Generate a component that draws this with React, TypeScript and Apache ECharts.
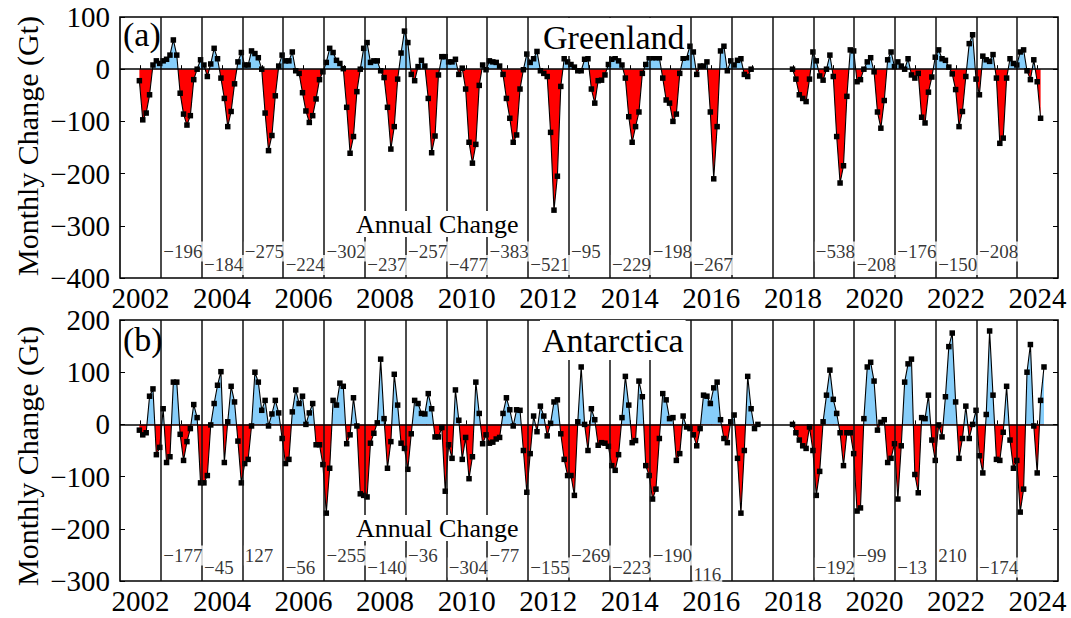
import { useEffect, useRef } from "react";
import * as echarts from "echarts";

const FONT = "'Liberation Serif', 'Times New Roman', serif";

// x positions of monthly samples (axis units = years)
const graceStart = 2001.975;
const graceFoStart = 2017.99;
const monthStep = 1 / 12;

const yearTicks = [2002, 2003, 2004, 2005, 2006, 2007, 2008, 2009, 2010, 2011, 2012, 2013, 2014, 2015, 2016, 2017, 2018, 2019, 2020, 2021, 2022, 2023, 2024];
const yearLabels = [2002, 2004, 2006, 2008, 2010, 2012, 2014, 2016, 2018, 2020, 2022, 2024];
const annualBoundaries = [2002.5, 2003.5, 2004.5, 2005.5, 2006.5, 2007.5, 2008.5, 2009.5, 2010.5, 2011.5, 2012.5, 2013.5, 2014.5, 2015.5, 2016.5, 2017.5, 2018.5, 2019.5, 2020.5, 2021.5, 2022.5, 2023.5];

// Greenland monthly change (Gt), GRACE then GRACE-FO
const greenlandGrace = [
  -22, -97, -84, -49, 8, 16, 11, 16, 19, 27, 56, 27,
  -46, -86, -107, -89, -20, 0, 18, 8, -14, 10, 40, 20,
  -17, -56, -110, -81, -28, 14, 32, 8, 8, 35, 30, 22,
  0, -84, -156, -127, -51, 6, 27, 16, 16, 33, -3, -8,
  -45, -80, -102, -89, -57, -20, -5, 13, 40, 32, 17, 11,
  1, -73, -161, -129, -43, 0, 40, 51, 13, 16, 16, -3,
  -16, -73, -153, -110, -19, 31, 73, 51, -10, -22, 5, 17,
  6, -56, -160, -128, -11, 24, 24, 14, 14, 19, -10, 2,
  -38, -140, -180, -144, -31, 8, -1, 16, 14, 13, 6, -10,
  -56, -94, -140, -126, -38, -1, 29, 13, 20, 34, -3, -8,
  -14, -121, -270, -205, -33, 20, 14, 9, 4, -3, -3, 19,
  20, -38, -65, -22, -21, -11, 9, 19, 22, 16, 8, -17,
  -91, -140, -110, -82, -8, 9, 22, 22, 22, 22, -17, -59,
  -65, -100, -86, -8, 21, 22, 44, 33, -10, 6, 6, 14,
  -82, -210, -110, 35, 44, -3, 16, 8, 17, 20, -10, -14,
  0,
];
const greenlandGraceFO = [
  0, -19, -49, -56, -62, -19, 33, 16, -13, -21, 0, 27,
  -14, -129, -218, -185, -52, 37, 35, -24, -20, 0, 14, 22,
  -5, -82, -113, -60, 18, 33, 5, 14, 6, 0, 20, -11,
  -17, -8, -92, -103, -44, -15, 23, 37, 20, 17, 4, -9,
  -39, -110, -81, -14, 49, 66, -19, -49, 25, 18, 15, 28,
  -17, -142, -132, -17, 20, 11, 8, 33, 37, -3, -20, 18,
  -24, -94,
];

// Antarctica monthly change (Gt)
const antarcticaGrace = [
  -11, -20, -16, 54, 68, -58, -44, 30, -73, -62, 81, 81,
  -19, -69, -33, -8, 38, 13, -112, -112, -98, -1, 40, 75,
  101, -73, 5, 73, 43, -32, -112, -75, -67, -3, 100, 81,
  27, 46, -3, 20, 46, 22, -27, -75, -67, 24, 66, 40,
  54, 0, 22, 40, -39, -39, -77, -170, -84, 46, 37, 79,
  73, -37, -20, 51, -3, -133, -136, -139, -36, -17, 3, 125,
  11, -84, -33, 96, 37, -36, -46, -86, -18, 46, 40, 21,
  20, 59, 30, -24, -24, -6, -128, -39, -65, 66, 8, -67,
  -25, -104, -62, 81, 21, -37, -20, -36, -34, -28, -25, 21,
  51, 28, -3, 28, 27, -50, -130, -56, 16, -14, 35, 16,
  -22, 2, 43, 47, -18, -67, -98, -98, -136, 5, 110, 0,
  -50, 30, 9, -40, -35, -36, -42, -79, -88, -58, 13, 92,
  37, -35, -31, 83, 53, -79, -98, -143, -124, -27, 59, 47,
  11, 13, -69, -56, 16, -5, -8, -20, -41, -8, 56, 54,
  40, 70, 81, 9, -27, -35, 5, 18, -65, -170, -50, 92,
  30, -8, 0,
];
const antarcticaGraceFO = [
  0, -16, -30, -41, -46, -5, -50, -136, -90, 5, 56, 104,
  48, 21, -16, -79, -16, -16, -56, -166, -160, 11, 110, 119,
  83, -11, 4, 9, -73, -65, -37, -143, -41, 81, 116, 125,
  -96, -131, 13, 11, 56, -30, -69, -1, -24, 53, 149, 175,
  43, -65, -27, 35, -27, 0, 27, -60, -93, 19, 179, 56,
  -67, -69, -15, 73, -30, -84, -69, -168, -124, 100, 153, -3,
  -93, 46, 110,
];

// Annual change annotations (Gt), placed after each annual boundary
const annualAt = [2002.5, 2003.5, 2004.5, 2005.5, 2006.5, 2007.5, 2008.5, 2009.5, 2010.5, 2011.5, 2012.5, 2013.5, 2014.5, 2015.5, 2018.5, 2019.5, 2020.5, 2021.5, 2022.5];
const greenlandAnnual = [-196, -184, -275, -224, -302, -237, -257, -477, -383, -521, -95, -229, -198, -267, -538, -208, -176, -150, -208];
const antarcticaAnnual = [-177, -45, 127, -56, -255, -140, -36, -304, -77, -155, -269, -223, -190, 116, -192, -99, -13, 210, -174];
// label rows (layout)
const greenlandAnnualRow = [0, 1, 0, 1, 0, 1, 0, 1, 0, 1, 0, 1, 0, 1, 0, 1, 0, 1, 0];
const antarcticaAnnualRow = [0, 1, 0, 1, 0, 1, 0, 1, 0, 1, 0, 1, 0, 2, 1, 0, 1, 0, 1];
const greenlandRowLevels = [-349, -375];
const antarcticaRowLevels = [-251, -274, -287];

const fmt = (v: number) => (v < 0 ? "\u2212" + Math.abs(v) : String(v));
const pairs = (start: number, vals: number[]) => vals.map((v, i) => [start + i * monthStep, v]);

function panelAxes(gi: number, min: number, max: number) {
  const x = {
    type: "value", gridIndex: gi, min: 2001.5, max: 2024.5,
    axisLine: { show: false },
    splitLine: { show: false },
    axisTick: { show: true, inside: true, length: 4, customValues: yearTicks, lineStyle: { color: "#000", width: 1 } },
    axisLabel: { show: true, customValues: yearLabels, margin: 5, fontSize: 29, fontFamily: FONT, color: "#000", formatter: (v: number) => String(v) },
  };
  const yl = {
    type: "value", gridIndex: gi, min, max, interval: 100, position: "left",
    axisLine: { show: false }, splitLine: { show: false },
    axisTick: { show: true, inside: true, length: 5, lineStyle: { color: "#000" } },
    axisLabel: { margin: 10, fontSize: 29, fontFamily: FONT, color: "#000", formatter: (v: number) => fmt(v) },
  };
  const yr = {
    type: "value", gridIndex: gi, min, max, interval: 100, position: "right",
    axisLine: { show: false }, splitLine: { show: false },
    axisTick: { show: true, inside: true, length: 5, lineStyle: { color: "#000" } },
    axisLabel: { show: false },
  };
  return { x, yl, yr };
}

function panelSeries(gi: number, grace: number[], fo: number[], annual: number[], rows: number[], levels: number[]) {
  const xi = gi;
  const yi = gi * 2;
  const area = (vals: number[], start: number) => ({
    type: "line", xAxisIndex: xi, yAxisIndex: yi, data: pairs(start, vals),
    showSymbol: false, symbol: "none", z: 2,
    lineStyle: { color: "#000", width: 1.1 },
    areaStyle: { opacity: 1 },
  });
  const pts = (vals: number[], start: number) => ({
    type: "scatter", xAxisIndex: xi, yAxisIndex: yi, data: pairs(start, vals),
    symbol: "rect", symbolSize: 5.5, itemStyle: { color: "#000", opacity: 1 }, z: 4,
  });
  return [
    {
      type: "line", xAxisIndex: xi, yAxisIndex: yi, data: [[2001.5, 0]], showSymbol: false, symbol: "none", z: 3,
      lineStyle: { width: 0 },
      markLine: {
        silent: true, symbol: ["none", "none"], label: { show: false },
        lineStyle: { color: "#111", width: 1.5, type: "solid" },
        data: [
          ...annualBoundaries.map((v) => ({ xAxis: v })),
          { yAxis: 0, lineStyle: { color: "#000", width: 1.6, type: "solid" } },
        ],
      },
    },
    area(grace, graceStart),
    area(fo, graceFoStart),
    pts(grace, graceStart),
    pts(fo, graceFoStart),
    {
      type: "scatter", xAxisIndex: xi, yAxisIndex: yi, z: 5, symbolSize: 1,
      itemStyle: { color: "rgba(0,0,0,0)" },
      data: annualAt.map((x, k) => [x, levels[rows[k]], annual[k]]),
      label: {
        show: true, position: "right", distance: 1,
        formatter: (p: any) => fmt(p.value[2]),
        fontSize: 19, fontFamily: FONT, color: "#000",
        backgroundColor: "#fff", padding: [1, 1, 0, 1],
      },
    },
  ];
}

export default function App() {
  const ref = useRef<HTMLDivElement>(null);
  useEffect(() => {
    if (!ref.current) return;
    const chart = echarts.init(ref.current, undefined, { renderer: "svg" });
    const a = panelAxes(0, -400, 100);
    const b = panelAxes(1, -300, 200);
    const txt = (text: string, x: number, y: number, size: number, extra: any = {}) => ({
      type: "text", x, y, z: 100, ...extra,
      style: { text, fontSize: size, fontFamily: FONT, fill: "#000", align: "left", verticalAlign: "middle", ...(extra.style || {}) },
    });
    const option: any = {
      animation: false,
      backgroundColor: "#fff",
      grid: [
        { left: 120, top: 17, width: 938, height: 261, show: true, borderColor: "#000", borderWidth: 1.6, containLabel: false },
        { left: 120, top: 320, width: 938, height: 261, show: true, borderColor: "#000", borderWidth: 1.6, containLabel: false },
      ],
      xAxis: [a.x, b.x],
      yAxis: [a.yl, a.yr, b.yl, b.yr],
      visualMap: [
        {
          type: "piecewise", show: false, dimension: 1, seriesIndex: [1, 2, 7, 8],
          pieces: [
            { gt: -1000, lte: 0, color: "#ff0000" },
            { gt: 0, lte: 1000, color: "#87cefa" },
          ],
        },
      ],
      series: [
        ...panelSeries(0, greenlandGrace, greenlandGraceFO, greenlandAnnual, greenlandAnnualRow, greenlandRowLevels),
        ...panelSeries(1, antarcticaGrace, antarcticaGraceFO, antarcticaAnnual, antarcticaAnnualRow, antarcticaRowLevels),
      ],
      graphic: [
        txt("Monthly Change (Gt)", 27, 146, 30, { rotation: Math.PI / 2, style: { align: "center" } }),
        txt("Monthly Change (Gt)", 27, 456, 30, { rotation: Math.PI / 2, style: { align: "center" } }),
        txt("(a)", 123, 34, 34),
        txt("(b)", 123, 339, 34),
        txt("Greenland", 541, 37, 34, { style: { backgroundColor: "#fff", padding: [2, 2, 2, 2] } }),
        txt("Antarctica", 540, 340, 34, { style: { backgroundColor: "#fff", padding: [4, 2, 2, 2] } }),
        txt("Annual Change", 354, 224, 26, { style: { backgroundColor: "#fff", padding: [0, 2, 0, 2] } }),
        txt("Annual Change", 354, 528, 26, { style: { backgroundColor: "#fff", padding: [0, 2, 0, 2] } }),
      ],
    };
    chart.setOption(option);
    return () => chart.dispose();
  }, []);
  return <div ref={ref} style={{ position: "fixed", left: 0, top: 0, width: 1071, height: 618 }} />;
}
